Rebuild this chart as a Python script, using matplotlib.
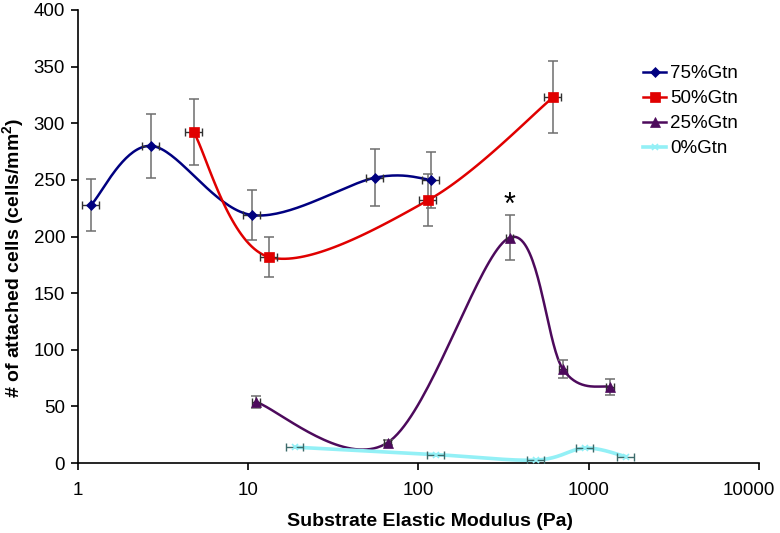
import numpy as np
import matplotlib
matplotlib.use("Agg")
import matplotlib.pyplot as plt
import matplotlib.transforms as mtransforms
from matplotlib.lines import Line2D

# ---- data ----
labels = ["75%Gtn", "50%Gtn", "25%Gtn", "0%Gtn"]

x75 = [1.2, 2.7, 10.5, 56, 119]
y75 = [228, 280, 219, 252, 250]
ye75 = [23, 28, 22, 25, 25]
xe75 = [0.14, 0.31, 1.2, 6.4, 14]

x50 = [4.8, 13.2, 114, 619]
y50 = [292, 182, 232, 323]
ye50 = [29, 18, 23, 32]
xe50 = [0.55, 1.5, 13, 71]

x25 = [11.1, 66, 343, 705, 1337]
y25 = [54, 18, 199, 83, 67]
ye25 = [5.5, 2, 20, 8, 7]
xe25 = [0.6, 3.5, 18, 37, 70]

x0 = [18.8, 127, 492, 953, 1650]
y0 = [14, 7.4, 2.6, 13.2, 5.7]
xe0 = [2.2, 14.5, 55, 110, 190]

xticks = [1, 10, 100, 1000, 10000]
yticks = [0, 50, 100, 150, 200, 250, 300, 350, 400]

plt.rcParams['font.family'] = ['Liberation Sans', 'DejaVu Sans']
plt.rcParams['mathtext.fontset'] = 'custom'
plt.rcParams['mathtext.bf'] = 'Liberation Sans:bold'
plt.rcParams['mathtext.rm'] = 'Liberation Sans'

FS = 13.5
LFS = 14

fig = plt.figure(figsize=(7.8, 5.33), dpi=100)
ax = fig.add_axes([77.7 / 780, 1 - 463 / 533, (759 - 77.7) / 780, (463 - 10) / 533])
ax.set_xscale('log')
ax.set_xlim(1, 10000)
ax.set_ylim(0, 400)
ax.set_xticks(xticks)
ax.set_xticklabels([str(t) for t in xticks])
ax.minorticks_off()
ax.set_yticks(yticks)
for s in ['top', 'right']:
    ax.spines[s].set_visible(False)
for s in ['left', 'bottom']:
    ax.spines[s].set_linewidth(1.2)
ax.tick_params(axis='both', labelsize=FS, length=5, width=1.2, direction='out')
ax.tick_params(axis='y', pad=4)
ax.tick_params(axis='x', pad=9)

# keep the last x tick label inside the figure, as in the reference
last = ax.get_xticklabels()[-1]
last.set_transform(last.get_transform() +
                   mtransforms.ScaledTranslation(-10 / 100, 0, fig.dpi_scale_trans))


def smooth(xs, ys, n=40):
    """Catmull-Rom (Excel-style) smoothing done in display space."""
    pts = ax.transData.transform(np.column_stack([xs, ys]))
    P = np.vstack([pts[0], pts, pts[-1]])
    out = []
    t = np.linspace(0, 1, n)[:, None]
    for i in range(1, len(P) - 2):
        p0, p1, p2, p3 = P[i - 1], P[i], P[i + 1], P[i + 2]
        c1 = p1 + (p2 - p0) / 6.0
        c2 = p2 - (p3 - p1) / 6.0
        seg = ((1 - t) ** 3) * p1 + 3 * ((1 - t) ** 2) * t * c1 + 3 * (1 - t) * t ** 2 * c2 + t ** 3 * p2
        out.append(seg if i == 1 else seg[1:])
    out = np.vstack(out)
    data = ax.transData.inverted().transform(out)
    return data[:, 0], data[:, 1]


series = [
    (x75, y75, ye75, xe75, '#000080', 'D', 5, 1.8),
    (x50, y50, ye50, xe50, '#e00000', 's', 7.5, 1.8),
    (x25, y25, ye25, xe25, '#4d0a5c', '^', 6.5, 1.8),
    (x0, y0, None, xe0, '#93f0f6', 'x', 5, 2.6),
]

handles = []
for (xs, ys, ye, xe, col, mk, ms, lw), lab in zip(series, labels):
    sx, sy = smooth(xs, ys)
    ax.plot(sx, sy, color=col, lw=lw, zorder=2, solid_capstyle='round')
    if ye is not None:
        ax.errorbar(xs, ys, yerr=ye, fmt='none', ecolor='#6e6e6e', elinewidth=1.1,
                    capsize=3.5, capthick=1.1, zorder=3)
    ax.errorbar(xs, ys, xerr=xe, fmt='none', ecolor='#303030' if ye is not None else '#3d6b6b',
                elinewidth=1.0, capsize=3, capthick=1.0, zorder=3)
    ax.plot(xs, ys, linestyle='none', marker=mk, color=col, markersize=ms,
            markeredgewidth=1.2 if mk == 'x' else 0.5, zorder=4)
    handles.append(Line2D([], [], color=col, lw=lw, marker=mk, markersize=ms,
                          markeredgewidth=1.2 if mk == 'x' else 0.5))

ax.text(343, 227, '*', fontsize=22, ha='center', va='center')

leg = ax.legend(handles, labels, loc='upper left', frameon=False,
                bbox_to_anchor=(643 / 780, 1 - 65 / 533), bbox_transform=fig.transFigure,
                borderaxespad=0, borderpad=0, handlelength=1.25, handletextpad=0.18,
                labelspacing=0.42, fontsize=FS)

ax.set_xlabel('Substrate Elastic Modulus (Pa)', fontsize=LFS, fontweight='bold')
ax.xaxis.set_label_coords((430 - 77.7) / 681.3, -(513 - 463) / 453)
ax.set_ylabel('# of attached cells (cells/mm$\\mathbf{^{2}}$)', fontsize=LFS, fontweight='bold')
ax.yaxis.set_label_coords(-(77.7 - 26) / 681.3, (463 - 258) / 453)

fig.savefig('out.png', dpi=100)
